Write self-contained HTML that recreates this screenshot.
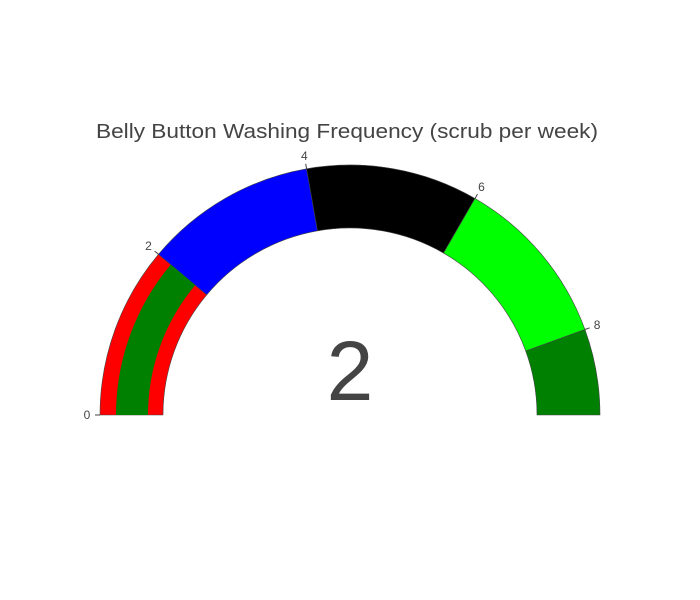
<!DOCTYPE html>
<html><head><meta charset="utf-8"><style>
html,body{margin:0;padding:0;background:#fff;}
svg{display:block;font-family:"Liberation Sans",sans-serif;}
</style></head><body>
<svg id="chart" width="700" height="600">
<text x="347" y="138" text-anchor="middle" font-size="20" fill="#444" textLength="502" lengthAdjust="spacingAndGlyphs">Belly Button Washing Frequency (scrub per week)</text>
<g id="steps"></g><g id="bar"></g><g id="ticks"></g>
<text id="val" x="350" y="400" text-anchor="middle" font-size="84" fill="#444"></text>
</svg>
<script>
const rangeMax = 9;
const gaugeValue = 2;
const stepStarts = [0, 2, 4, 6, 8];
const stepEnds = [2, 4, 6, 8, 9];
const stepColors = ["red", "blue", "black", "lime", "green"];
const tickValues = [0, 2, 4, 6, 8];
const tickLabels = ["0", "2", "4", "6", "8"];

const cx = 350, cy = 415, R = 250, r0 = 187;
const NS = "http://www.w3.org/2000/svg";
function ang(v){ return Math.PI * (1 - v / rangeMax); }
function pt(v, r){ const a = ang(v); return [cx + r * Math.cos(a), cy - r * Math.sin(a)]; }
function arc(v0, v1, ri, ro){
  const a = pt(v0, ro), b = pt(v1, ro), c = pt(v1, ri), d = pt(v0, ri);
  return `M${a[0]},${a[1]} A${ro},${ro} 0 0 1 ${b[0]},${b[1]} L${c[0]},${c[1]} A${ri},${ri} 0 0 0 ${d[0]},${d[1]} Z`;
}
const steps = document.getElementById("steps");
stepStarts.forEach((s, i) => {
  const p = document.createElementNS(NS, "path");
  p.setAttribute("d", arc(s, stepEnds[i], r0, R));
  p.setAttribute("fill", stepColors[i]);
  p.setAttribute("stroke", "#444");
  p.setAttribute("stroke-width", "0.6");
  
  
  steps.appendChild(p);
});
const bar = document.createElementNS(NS, "path");
bar.setAttribute("d", arc(0, gaugeValue, 202, 234));
bar.setAttribute("fill", "green");


document.getElementById("bar").appendChild(bar);
const ticks = document.getElementById("ticks");
tickValues.forEach((v, i) => {
  const a = pt(v, R), b = pt(v, R + 5), t = pt(v, R + 13);
  const l = document.createElementNS(NS, "line");
  l.setAttribute("x1", a[0]); l.setAttribute("y1", a[1]);
  l.setAttribute("x2", b[0]); l.setAttribute("y2", b[1]);
  l.setAttribute("stroke", "#444");
  
  
  ticks.appendChild(l);
  const tx = document.createElementNS(NS, "text");
  tx.setAttribute("x", t[0]); tx.setAttribute("y", t[1] + 4);
  tx.setAttribute("text-anchor", "middle");
  tx.setAttribute("font-size", "12"); tx.setAttribute("fill", "#444");
  tx.textContent = tickLabels[i];
  
  
  ticks.appendChild(tx);
});
document.getElementById("val").textContent = gaugeValue;
</script>
</body></html>
